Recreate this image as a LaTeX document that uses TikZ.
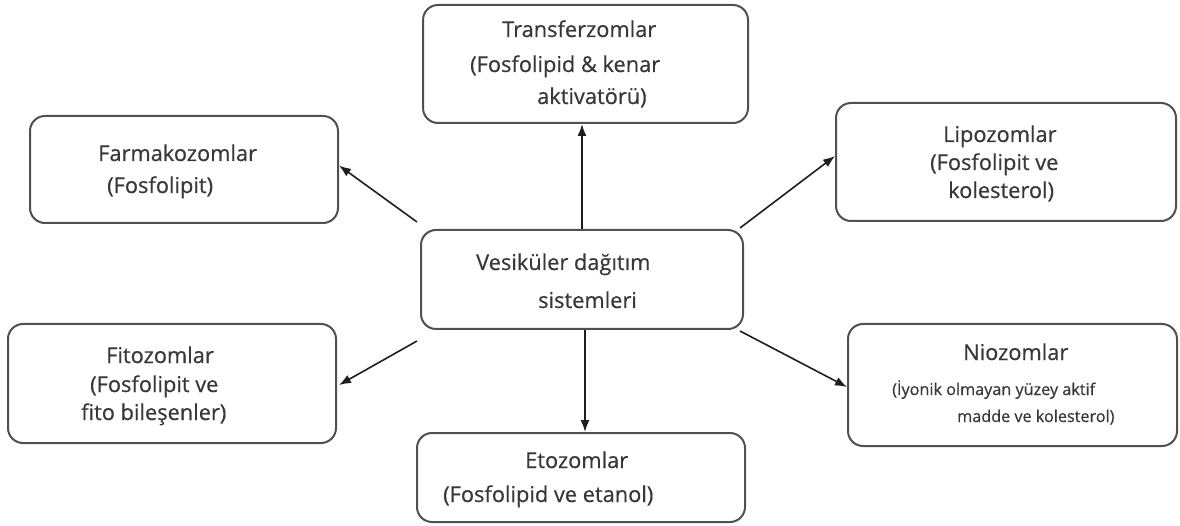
\documentclass[tikz,border=0pt]{standalone}
\usepackage{fontspec}
\setmainfont{Open Sans}
\newfontfamily\semib[FakeBold=0.5]{Open Sans}
\usetikzlibrary{arrows.meta,calc}
\definecolor{boxline}{HTML}{505050}
\definecolor{txt}{HTML}{383838}
\definecolor{arr}{HTML}{1E1E1E}
\begin{document}
\begin{tikzpicture}[x=1pt,y=-1pt,
  box/.style={draw=boxline,line width=2pt,rounded corners=15pt,inner sep=0pt,fill=white},
  lbl/.style={anchor=base west,inner sep=0pt,text=txt,font=\semib\fontsize{21.8}{24}\selectfont},
  small/.style={anchor=base west,inner sep=0pt,text=txt,font=\semib\fontsize{16.2}{18}\selectfont},
  conn/.style={draw=arr,line width=1.6pt,-{Latex[length=12pt,width=9pt]}}]
\useasboundingbox (0,0) rectangle (1180,526);
% boxes
\node[box,minimum width=325pt,minimum height=118pt] (tr) at (585.5,64) {};
\node[box,minimum width=308pt,minimum height=107pt] (fa) at (184,169.5) {};
\node[box,minimum width=340pt,minimum height=118pt] (li) at (1006,162) {};
\node[box,minimum width=322pt,minimum height=99pt] (ce) at (582,279.5) {};
\node[box,minimum width=328pt,minimum height=119pt] (fi) at (172,383.5) {};
\node[box,minimum width=329pt,minimum height=122pt] (ni) at (1012.5,385) {};
\node[box,minimum width=328pt,minimum height=89pt] (et) at (581,477.5) {};
% texts
\node[lbl] (tr1) at (502,37) {Transferzomlar};
\node[lbl] (tr2) at (470,72) {(Fosfolipid \& kenar};
\node[lbl] (tr3) at (537,104) {aktivatörü)};
\node[lbl] (fa1) at (98,161) {Farmakozomlar};
\node[lbl] (fa2) at (107,193) {(Fosfolipit)};
\node[lbl] (li1) at (943,142) {Lipozomlar};
\node[lbl] (li2) at (930,170) {(Fosfolipit ve};
\node[lbl] (li3) at (948,198) {kolesterol)};
\node[lbl] (ce1) at (476,270) {Vesiküler dağıtım};
\node[lbl] (ce2) at (538,308) {sistemleri};
\node[lbl] (fi1) at (106,363) {Fitozomlar};
\node[lbl] (fi2) at (90,392) {(Fosfolipit ve};
\node[lbl] (fi3) at (81,420) {fito bileşenler)};
\node[lbl] (ni1) at (963,360) {Niozomlar};
\node[small] (ni2) at (892,395) {(İyonik olmayan yüzey aktif};
\node[small] (ni3) at (957,422) {madde ve kolesterol)};
\node[lbl] (et1) at (525,468) {Etozomlar};
\node[lbl] (et2) at (443,502) {(Fosfolipid ve etanol)};
% connectors
\draw[conn] (ce.north) -- (ce.north |- tr.south);
\draw[conn] ([xshift=3pt]ce.south) -- ([xshift=3pt]ce.south |- et.north);
\draw[conn] ([xshift=-3pt,yshift=7pt]ce.north west) -- ([yshift=4pt]fa.east);
\draw[conn] ([xshift=-4pt,yshift=1pt]ce.north east) -- ([yshift=6pt]li.west);
\draw[conn] ([xshift=-3pt,yshift=-11pt]ce.south west) -- ([xshift=2pt,yshift=-1.5pt]fi.east);
\draw[conn] ([xshift=-4pt,yshift=-1pt]ce.south east) -- ([yshift=-2pt]ni.west);
\end{tikzpicture}
\end{document}
